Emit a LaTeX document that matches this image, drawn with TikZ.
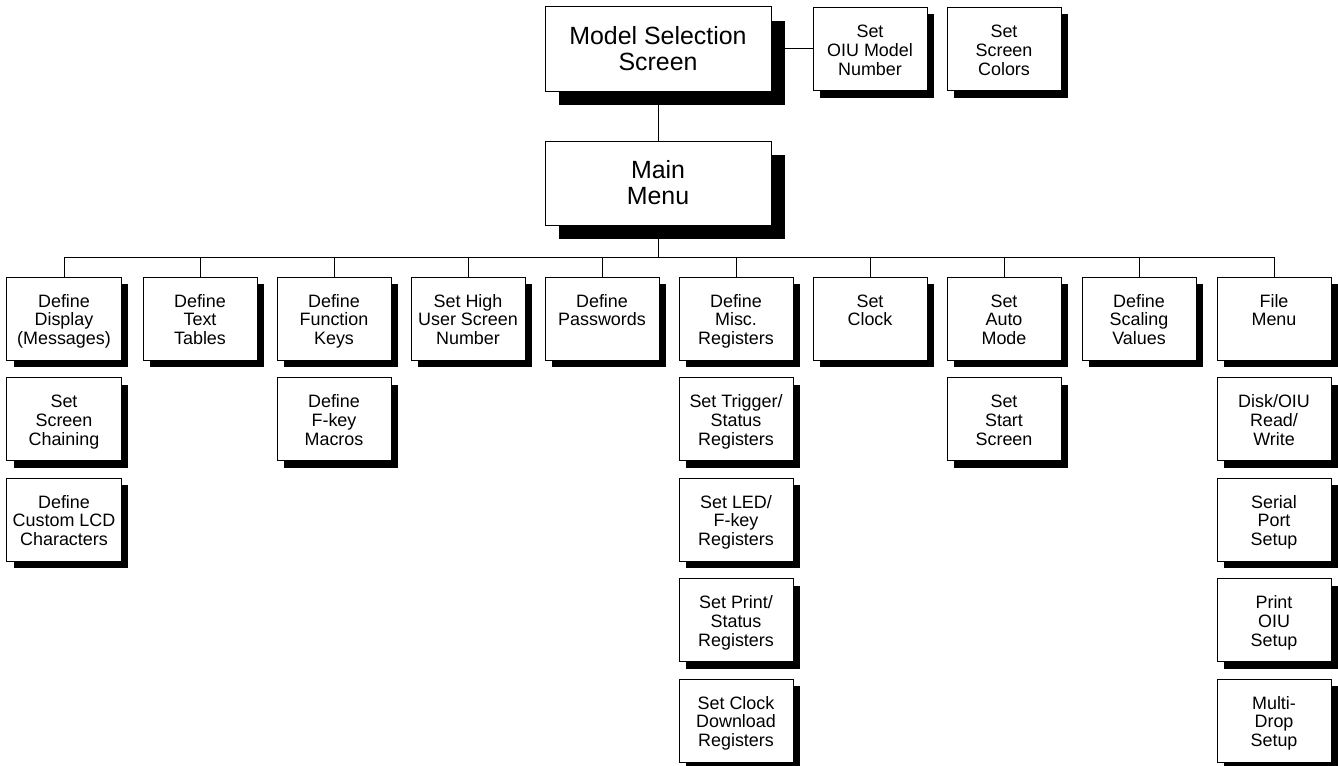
\documentclass[tikz,border=0pt]{standalone}
\usepackage{fontspec}
\setmainfont{Liberation Sans}
\usetikzlibrary{shadows}
\newcommand\smtxt[1]{\parbox[c][83bp][t]{114bp}{\centering\rule{0pt}{30bp}#1\par}}
\tikzset{
  bigbox/.style={draw, fill=white, line width=1bp, minimum width=226bp, minimum height=84bp,
    inner sep=0pt, align=center, font=\fontsize{25}{26}\selectfont,
    general shadow={shadow xshift=14bp, shadow yshift=-14bp, fill=black}},
  smallbox/.style={draw, fill=white, line width=1bp, inner sep=0pt,
    font=\fontsize{18}{19}\selectfont,
    general shadow={shadow xshift=7bp, shadow yshift=-7bp, fill=black}},
  conn/.style={line width=1bp}
}
\begin{document}
\begin{tikzpicture}[x=1bp,y=-1bp]
\useasboundingbox (0,0) rectangle (1338,765);
% top
\node[bigbox] (ms) at (658,49) {Model Selection\\Screen};
\node[smallbox] (oiu) at (870,49) {\smtxt{Set\\OIU Model\\Number}};
\node[smallbox] (ssc) at (1004,49) {\smtxt{Set\\Screen\\Colors}};
\node[bigbox] (mm) at (658,183) {Main\\Menu};
% row 1
\node[smallbox] (d1) at (64,318.5) {\smtxt{Define\\Display\\(Messages)}};
\node[smallbox] (d2) at (200,318.5) {\smtxt{Define\\Text\\Tables}};
\node[smallbox] (d3) at (334,318.5) {\smtxt{Define\\Function\\Keys}};
\node[smallbox] (d4) at (468,318.5) {\smtxt{Set High\\User Screen\\Number}};
\node[smallbox] (d5) at (602,318.5) {\smtxt{Define\\Passwords}};
\node[smallbox] (d6) at (736,318.5) {\smtxt{Define\\Misc.\\Registers}};
\node[smallbox] (d7) at (870,318.5) {\smtxt{Set\\Clock}};
\node[smallbox] (d8) at (1004,318.5) {\smtxt{Set\\Auto\\Mode}};
\node[smallbox] (d9) at (1139,318.5) {\smtxt{Define\\Scaling\\Values}};
\node[smallbox] (d10) at (1274,318.5) {\smtxt{File\\Menu}};
% column 1
\node[smallbox] (d1b) at (64,419) {\smtxt{Set\\Screen\\Chaining}};
\node[smallbox] (d1c) at (64,519.5) {\smtxt{Define\\Custom LCD\\Characters}};
% column 3
\node[smallbox] (d3b) at (334,419) {\smtxt{Define\\F-key\\Macros}};
% column 6
\node[smallbox] (d6b) at (736,419) {\smtxt{Set Trigger/\\Status\\Registers}};
\node[smallbox] (d6c) at (736,519.5) {\smtxt{Set LED/\\F-key\\Registers}};
\node[smallbox] (d6d) at (736,620) {\smtxt{Set Print/\\Status\\Registers}};
\node[smallbox] (d6e) at (736,720.5) {\smtxt{Set Clock\\Download\\Registers}};
% column 8
\node[smallbox] (d8b) at (1004,419) {\smtxt{Set\\Start\\Screen}};
% column 10
\node[smallbox] (d10b) at (1274,419) {\smtxt{Disk/OIU\\Read/\\Write}};
\node[smallbox] (d10c) at (1274,519.5) {\smtxt{Serial\\Port\\Setup}};
\node[smallbox] (d10d) at (1274,620) {\smtxt{Print\\OIU\\Setup}};
\node[smallbox] (d10e) at (1274,720.5) {\smtxt{Multi-\\Drop\\Setup}};
% connectors
\coordinate (bus) at (0,257);
\draw[conn] (ms.east) -- (oiu.west);
\draw[conn] (ms.south) -- (mm.north);
\draw[conn] (mm.south) -- (mm.south |- bus);
\draw[conn] (d1.north) -- (d1.north |- bus) -- (d10.north |- bus) -- (d10.north);
\foreach \n in {d2,d3,d4,d5,d6,d7,d8,d9}{
  \draw[conn] (\n.north) -- (\n.north |- bus);
}
\end{tikzpicture}
\end{document}
